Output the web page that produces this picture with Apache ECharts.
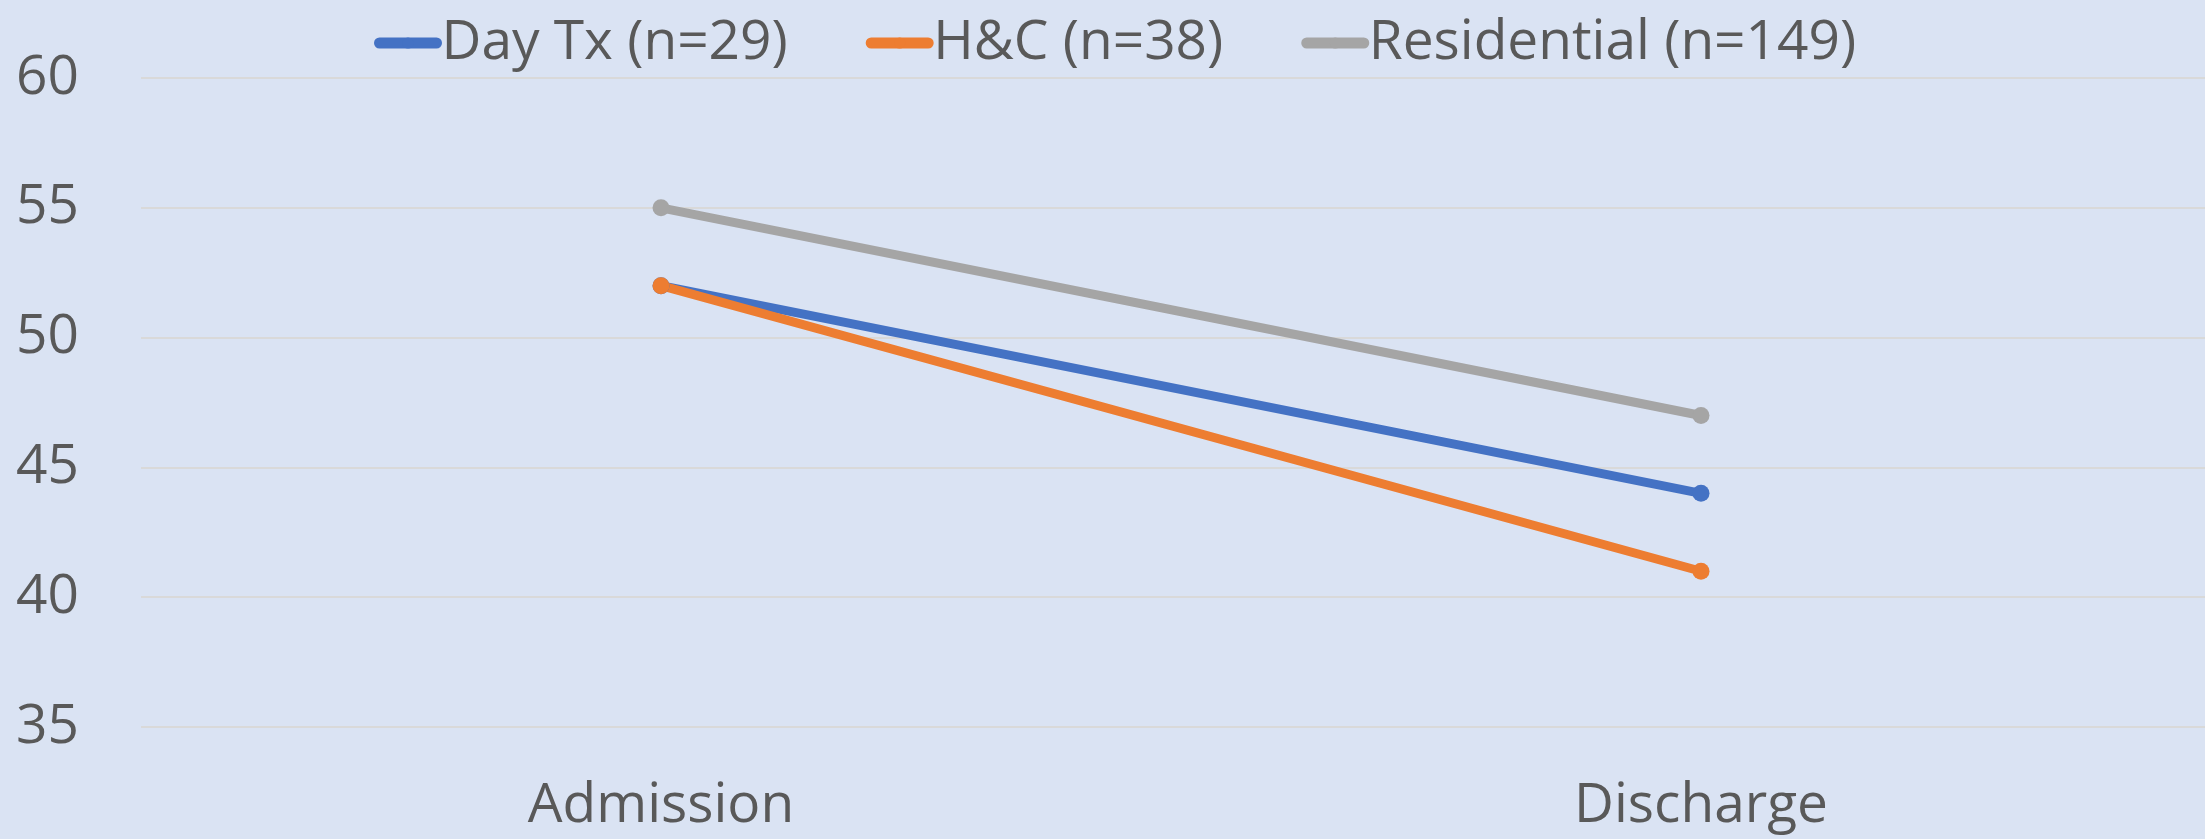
<!DOCTYPE html>
<html>
<head>
<meta charset="utf-8">
<style>
  html, body { margin: 0; padding: 0; background: #DAE3F3; }
  #chart { width: 2205px; height: 839px; }
</style>
<script src="https://cdn.jsdelivr.net/npm/echarts@6/dist/echarts.min.js"></script>
</head>
<body>
<div id="chart"></div>
<script>
const categories = ['Admission', 'Discharge'];
const seriesNames = ['Day Tx (n=29)', 'H&C (n=38)', 'Residential (n=149)'];
const dayTx = [52, 44];
const hc = [52, 41];
const residential = [55, 47];
const yTicks = { min: 35, max: 60, interval: 5 };

const colors = ['#4472C4', '#ED7D31', '#A5A5A5'];
const values = [dayTx, hc, residential];
const font = '"Open Sans", "Liberation Sans", sans-serif';
const textColor = '#595959';

const chart = echarts.init(document.getElementById('chart'), null, { renderer: 'canvas' });
chart.setOption({
  backgroundColor: '#DAE3F3',
  animation: false,
  color: colors,
  textStyle: { fontFamily: font },
  legend: {
    left: 369,
    top: 8,
    itemWidth: 57,
    itemHeight: 14,
    itemGap: 78,
    lineStyle: { width: 11 },
    textStyle: { fontSize: 55, color: textColor, fontFamily: font, lineHeight: 60 },
    data: seriesNames
  },
  grid: { left: 141, top: 78, width: 2080, bottom: 112, containLabel: false, outerBoundsMode: 'none' },
  xAxis: {
    type: 'category',
    data: categories,
    boundaryGap: true,
    axisLine: { show: false },
    axisTick: { show: false },
    axisLabel: { margin: 52, fontSize: 55, color: textColor, fontFamily: font }
  },
  yAxis: {
    type: 'value',
    min: yTicks.min,
    max: yTicks.max,
    interval: yTicks.interval,
    axisLine: { show: false },
    axisTick: { show: false },
    axisLabel: { margin: 62, fontSize: 55, color: textColor, fontFamily: font },
    splitLine: { lineStyle: { color: '#D9D9D9', width: 2 } }
  },
  series: seriesNames.map((name, i) => ({
    name: name,
    type: 'line',
    data: values[i],
    symbol: 'circle',
    symbolSize: 17,
    lineStyle: { width: 9, color: colors[i], cap: 'round' },
    itemStyle: { color: colors[i] }
  }))
});
</script>
</body>
</html>
